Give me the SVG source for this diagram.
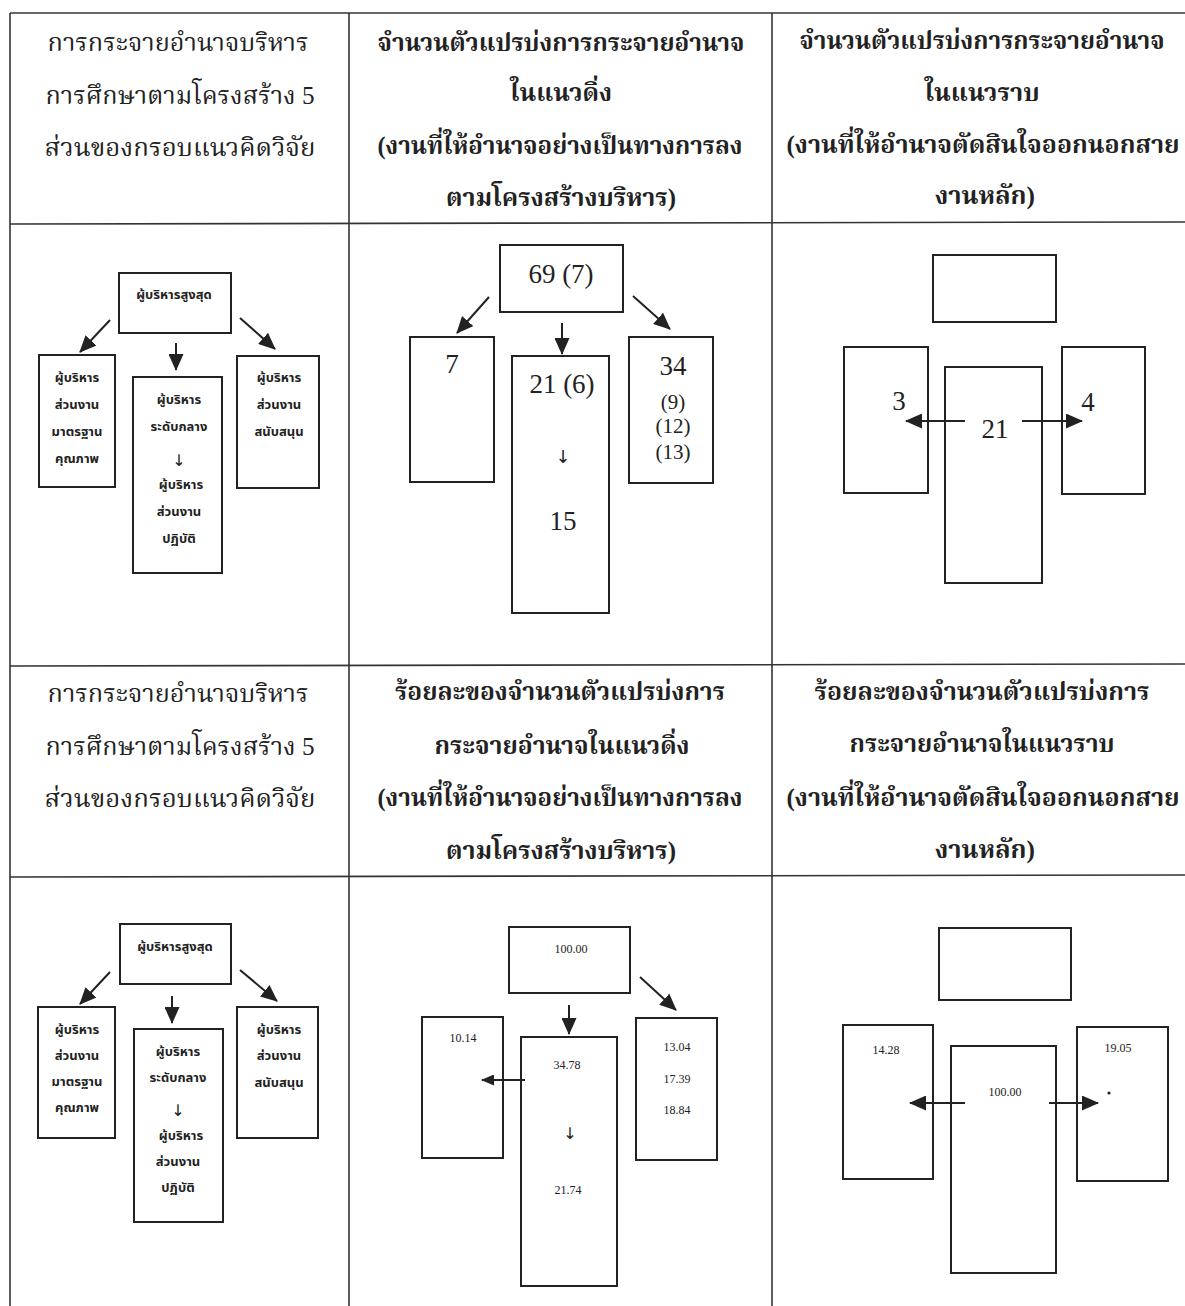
<svg xmlns="http://www.w3.org/2000/svg" width="1185" height="1306" viewBox="0 0 1185 1306">
<style>
.grid{stroke:#333;stroke-width:1.6;fill:none}
.box{fill:#fff;stroke:#222;stroke-width:2}
.con{stroke:#222;stroke-width:2;fill:none}
.hd{font-family:"Liberation Serif","Noto Serif Thai","Noto Sans Thai","Loma","Garuda","DejaVu Serif",serif;font-size:25px;fill:#222;text-anchor:middle}
.hb{font-weight:bold}
.sm{font-family:"Noto Sans Thai","Loma","Garuda","Liberation Sans","DejaVu Sans",sans-serif;font-size:13px;font-weight:bold;fill:#222;text-anchor:middle}
.num{font-family:"Liberation Serif","DejaVu Serif",serif;fill:#222;text-anchor:middle}
.arr{font-family:"DejaVu Sans",sans-serif;fill:#222;text-anchor:middle}
</style>
<defs>
<marker id="ah" markerWidth="17" markerHeight="15" refX="16" refY="7.5" orient="auto" markerUnits="userSpaceOnUse"><path d="M0,0 L17,7.5 L0,15 z" fill="#222"/></marker>
<marker id="ahs" markerWidth="13" markerHeight="11" refX="12" refY="5.5" orient="auto" markerUnits="userSpaceOnUse"><path d="M0,0 L13,5.5 L0,11 z" fill="#222"/></marker>
</defs>
<rect width="1185" height="1306" fill="#fff"/>
<g id="table" class="grid">
<line x1="10" y1="13" x2="1185" y2="13"/>
<line x1="10" y1="224" x2="1185" y2="222"/>
<line x1="10" y1="666" x2="1185" y2="664"/>
<line x1="10" y1="877" x2="1185" y2="875"/>
<line x1="10" y1="13" x2="10" y2="1306"/>
<line x1="349" y1="13" x2="349" y2="1306"/>
<line x1="772" y1="13" x2="772" y2="1306"/>
</g>
<g id="headers">
<text class="hd" x="178" y="51" textLength="261" lengthAdjust="spacingAndGlyphs">การกระจายอำนาจบริหาร</text>
<text class="hd" x="180" y="104" textLength="269" lengthAdjust="spacingAndGlyphs">การศึกษาตามโครงสร้าง 5</text>
<text class="hd" x="180" y="156" textLength="271" lengthAdjust="spacingAndGlyphs">ส่วนของกรอบแนวคิดวิจัย</text>
<text class="hd hb" x="561" y="51" textLength="367" lengthAdjust="spacingAndGlyphs">จำนวนตัวแปรบ่งการกระจายอำนาจ</text>
<text class="hd hb" x="561" y="101" textLength="102" lengthAdjust="spacingAndGlyphs">ในแนวดิ่ง</text>
<text class="hd hb" x="560" y="154" textLength="365" lengthAdjust="spacingAndGlyphs">(งานที่ให้อำนาจอย่างเป็นทางการลง</text>
<text class="hd hb" x="561" y="206" textLength="230" lengthAdjust="spacingAndGlyphs">ตามโครงสร้างบริหาร)</text>
<text class="hd hb" x="982" y="49" textLength="365" lengthAdjust="spacingAndGlyphs">จำนวนตัวแปรบ่งการกระจายอำนาจ</text>
<text class="hd hb" x="982" y="101" textLength="115" lengthAdjust="spacingAndGlyphs">ในแนวราบ</text>
<text class="hd hb" x="983" y="153" textLength="393" lengthAdjust="spacingAndGlyphs">(งานที่ให้อำนาจตัดสินใจออกนอกสาย</text>
<text class="hd hb" x="985" y="204" textLength="100" lengthAdjust="spacingAndGlyphs">งานหลัก)</text>
<text class="hd" x="178" y="702" textLength="261" lengthAdjust="spacingAndGlyphs">การกระจายอำนาจบริหาร</text>
<text class="hd" x="180" y="755" textLength="269" lengthAdjust="spacingAndGlyphs">การศึกษาตามโครงสร้าง 5</text>
<text class="hd" x="180" y="807" textLength="271" lengthAdjust="spacingAndGlyphs">ส่วนของกรอบแนวคิดวิจัย</text>
<text class="hd hb" x="560" y="700" textLength="330" lengthAdjust="spacingAndGlyphs">ร้อยละของจำนวนตัวแปรบ่งการ</text>
<text class="hd hb" x="562" y="754" textLength="255" lengthAdjust="spacingAndGlyphs">กระจายอำนาจในแนวดิ่ง</text>
<text class="hd hb" x="560" y="806" textLength="365" lengthAdjust="spacingAndGlyphs">(งานที่ให้อำนาจอย่างเป็นทางการลง</text>
<text class="hd hb" x="561" y="859" textLength="230" lengthAdjust="spacingAndGlyphs">ตามโครงสร้างบริหาร)</text>
<text class="hd hb" x="982" y="700" textLength="335" lengthAdjust="spacingAndGlyphs">ร้อยละของจำนวนตัวแปรบ่งการ</text>
<text class="hd hb" x="982" y="752" textLength="265" lengthAdjust="spacingAndGlyphs">กระจายอำนาจในแนวราบ</text>
<text class="hd hb" x="983" y="806" textLength="393" lengthAdjust="spacingAndGlyphs">(งานที่ให้อำนาจตัดสินใจออกนอกสาย</text>
<text class="hd hb" x="985" y="858" textLength="100" lengthAdjust="spacingAndGlyphs">งานหลัก)</text>
</g>
<g id="d1-top"><rect class="box" x="119" y="273" width="112" height="60"/><text class="sm" x="174" y="299">ผู้บริหารสูงสุด</text></g>
<g id="d1-left"><rect class="box" x="39" y="355" width="76" height="132"/>
<text class="sm" x="77" y="382">ผู้บริหาร</text><text class="sm" x="77" y="409">ส่วนงาน</text><text class="sm" x="77" y="436">มาตรฐาน</text><text class="sm" x="77" y="463">คุณภาพ</text></g>
<g id="d1-mid"><rect class="box" x="133" y="377" width="89" height="196"/>
<text class="sm" x="179" y="404">ผู้บริหาร</text><text class="sm" x="179" y="431">ระดับกลาง</text><text class="arr" x="179" y="466" font-size="16">↓</text><text class="sm" x="181" y="489">ผู้บริหาร</text><text class="sm" x="179" y="516">ส่วนงาน</text><text class="sm" x="179" y="543">ปฏิบัติ</text></g>
<g id="d1-right"><rect class="box" x="237" y="356" width="82" height="132"/>
<text class="sm" x="279" y="382">ผู้บริหาร</text><text class="sm" x="279" y="409">ส่วนงาน</text><text class="sm" x="279" y="436">สนับสนุน</text></g>
<g id="d2-top"><rect class="box" x="500" y="245" width="123" height="67"/><text class="num" x="561" y="283" font-size="27">69 (7)</text></g>
<g id="d2-left"><rect class="box" x="410" y="337" width="84" height="145"/><text class="num" x="452" y="373" font-size="27">7</text></g>
<g id="d2-mid"><rect class="box" x="512" y="356" width="97" height="257"/><text class="num" x="562" y="393" font-size="27">21 (6)</text><text class="arr" x="563" y="463" font-size="18">↓</text><text class="num" x="563" y="530" font-size="27">15</text></g>
<g id="d2-right"><rect class="box" x="629" y="337" width="84" height="146"/><text class="num" x="673" y="375" font-size="27">34</text><text class="num" x="673" y="409" font-size="21">(9)</text><text class="num" x="673" y="433" font-size="21">(12)</text><text class="num" x="673" y="459" font-size="21">(13)</text></g>
<g id="d3-top"><rect class="box" x="933" y="255" width="123" height="67"/></g>
<g id="d3-left"><rect class="box" x="844" y="347" width="84" height="146"/><text class="num" x="899" y="410" font-size="27">3</text></g>
<g id="d3-mid"><rect class="box" x="945" y="367" width="97" height="216"/><text class="num" x="995" y="438" font-size="27">21</text></g>
<g id="d3-right"><rect class="box" x="1062" y="347" width="83" height="147"/><text class="num" x="1088" y="411" font-size="27">4</text></g>
<g id="d4-top"><rect class="box" x="120" y="924" width="111" height="60"/><text class="sm" x="175" y="951">ผู้บริหารสูงสุด</text></g>
<g id="d4-left"><rect class="box" x="38" y="1007" width="77" height="131"/>
<text class="sm" x="77" y="1034">ผู้บริหาร</text><text class="sm" x="77" y="1060">ส่วนงาน</text><text class="sm" x="77" y="1086">มาตรฐาน</text><text class="sm" x="77" y="1112">คุณภาพ</text></g>
<g id="d4-mid"><rect class="box" x="134" y="1029" width="89" height="193"/>
<text class="sm" x="178" y="1056">ผู้บริหาร</text><text class="sm" x="178" y="1082">ระดับกลาง</text><text class="arr" x="178" y="1116" font-size="16">↓</text><text class="sm" x="181" y="1140">ผู้บริหาร</text><text class="sm" x="178" y="1166">ส่วนงาน</text><text class="sm" x="178" y="1192">ปฏิบัติ</text></g>
<g id="d4-right"><rect class="box" x="237" y="1007" width="81" height="131"/>
<text class="sm" x="279" y="1034">ผู้บริหาร</text><text class="sm" x="279" y="1060">ส่วนงาน</text><text class="sm" x="279" y="1087">สนับสนุน</text></g>
<g id="d5-top"><rect class="box" x="509" y="927" width="121" height="66"/><text class="num" x="571" y="953" font-size="12">100.00</text></g>
<g id="d5-left"><rect class="box" x="422" y="1017" width="81" height="141"/><text class="num" x="463" y="1042" font-size="12">10.14</text></g>
<g id="d5-mid"><rect class="box" x="521" y="1037" width="96" height="249"/><text class="num" x="567" y="1069" font-size="12">34.78</text><text class="arr" x="570" y="1139" font-size="16">↓</text><text class="num" x="568" y="1194" font-size="12">21.74</text></g>
<g id="d5-right"><rect class="box" x="636" y="1018" width="81" height="142"/><text class="num" x="677" y="1051" font-size="12">13.04</text><text class="num" x="677" y="1083" font-size="12">17.39</text><text class="num" x="677" y="1114" font-size="12">18.84</text></g>
<g id="d6-top"><rect class="box" x="939" y="928" width="132" height="72"/></g>
<g id="d6-left"><rect class="box" x="843" y="1025" width="90" height="154"/><text class="num" x="886" y="1054" font-size="12">14.28</text></g>
<g id="d6-mid"><rect class="box" x="951" y="1046" width="105" height="227"/><text class="num" x="1005" y="1096" font-size="12">100.00</text></g>
<g id="d6-right"><rect class="box" x="1077" y="1027" width="91" height="154"/><text class="num" x="1118" y="1052" font-size="12">19.05</text><circle cx="1109" cy="1093" r="1.6" fill="#222"/></g>
<g id="connectors">
<line class="con" x1="110" y1="320" x2="80" y2="352" marker-end="url(#ah)"/>
<line class="con" x1="176" y1="343" x2="176" y2="370" marker-end="url(#ah)"/>
<line class="con" x1="240" y1="318" x2="275" y2="349" marker-end="url(#ah)"/>
<line class="con" x1="489" y1="297" x2="457" y2="333" marker-end="url(#ah)"/>
<line class="con" x1="562" y1="323" x2="562" y2="354" marker-end="url(#ah)"/>
<line class="con" x1="633" y1="296" x2="670" y2="329" marker-end="url(#ah)"/>
<line class="con" x1="965" y1="421" x2="906" y2="421" marker-end="url(#ah)"/>
<line class="con" x1="1022" y1="421" x2="1082" y2="421" marker-end="url(#ah)"/>
<line class="con" x1="110" y1="972" x2="80" y2="1004" marker-end="url(#ah)"/>
<line class="con" x1="172" y1="996" x2="172" y2="1023" marker-end="url(#ah)"/>
<line class="con" x1="240" y1="970" x2="277" y2="1001" marker-end="url(#ah)"/>
<line class="con" x1="569" y1="1005" x2="569" y2="1034" marker-end="url(#ah)"/>
<line class="con" x1="640" y1="977" x2="676" y2="1010" marker-end="url(#ah)"/>
<line class="con" x1="525" y1="1080" x2="482" y2="1080" marker-end="url(#ahs)"/>
<line class="con" x1="965" y1="1103" x2="910" y2="1103" marker-end="url(#ah)"/>
<line class="con" x1="1049" y1="1103" x2="1098" y2="1103" marker-end="url(#ah)"/>
</g>
</svg>
